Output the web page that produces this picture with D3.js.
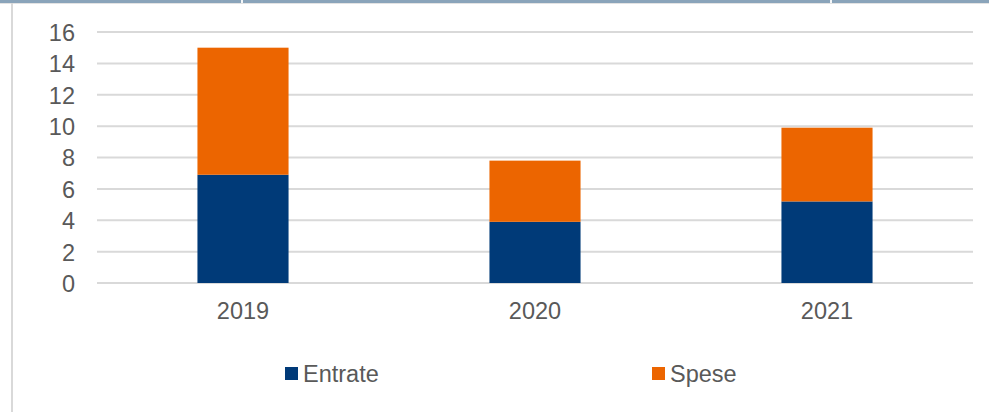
<!DOCTYPE html>
<html>
<head>
<meta charset="utf-8">
<script src="https://cdn.jsdelivr.net/npm/d3@7"></script>
<style>
  html, body { margin: 0; padding: 0; background: #fff; }
  svg { display: block; }
  text { font-family: "Liberation Sans", Arial, sans-serif; fill: #595959; }
</style>
</head>
<body>
<svg id="chart" width="989" height="412"></svg>
<script>
// Yearly totals split into income and expenses
const years = ["2019", "2020", "2021"];
const entrate = [6.9, 3.9, 5.2];
const spese = [8.1, 3.9, 4.7];
const yTicks = [0, 2, 4, 6, 8, 10, 12, 14, 16];
const seriesNames = ["Entrate", "Spese"];
const seriesColors = ["#003a78", "#ec6500"];

const svg = d3.select("#chart");
const W = 989, H = 412;
const FS = 23.5;

// page frame: header strip and left rule
svg.append("rect").attr("x", 0).attr("y", 0).attr("width", W).attr("height", 3).attr("fill", "#8aa4ba");
[241, 830].forEach(gx => svg.append("rect").attr("x", gx).attr("y", 0).attr("width", 2).attr("height", 3).attr("fill", "#f4f7f9"));
svg.append("line").attr("x1", 0).attr("x2", W).attr("y1", 3.5).attr("y2", 3.5).attr("stroke", "#e3e3e3").attr("stroke-width", 1);
svg.append("line").attr("x1", 12).attr("x2", 12).attr("y1", 3).attr("y2", H).attr("stroke", "#d9d9d9").attr("stroke-width", 2);

const x = d3.scaleBand().domain(years).range([97, 973]).paddingInner(0.688).paddingOuter(0.344);
const y = d3.scaleLinear().domain([0, 16]).range([283, 32]);

// gridlines
svg.append("g").selectAll("line").data(yTicks).join("line")
  .attr("x1", 97).attr("x2", 973)
  .attr("y1", d => y(d)).attr("y2", d => y(d))
  .attr("stroke", "#d9d9d9").attr("stroke-width", 2);

// y axis labels
const yAxis = d3.axisLeft(y).tickValues(yTicks).tickSize(0).tickPadding(0);
const gy = svg.append("g").attr("transform", "translate(75,0)").call(yAxis);
gy.select(".domain").remove();
gy.selectAll("text").attr("font-size", FS).attr("fill", "#595959").attr("dy", "0.36em")
  .style("font-family", "'Liberation Sans', Arial, sans-serif");

// stacked bars
const rows = years.map((yr, i) => ({ year: yr, Entrate: entrate[i], Spese: spese[i] }));
const stack = d3.stack().keys(seriesNames)(rows);
svg.append("g").selectAll("g").data(stack).join("g")
  .attr("fill", (d, i) => seriesColors[i])
  .selectAll("rect").data(d => d).join("rect")
  .attr("x", d => x(d.data.year))
  .attr("width", x.bandwidth())
  .attr("y", d => y(d[1]))
  .attr("height", d => y(d[0]) - y(d[1]));

// x axis labels
const xAxis = d3.axisBottom(x).tickSize(0).tickPadding(0);
const gx = svg.append("g").attr("transform", "translate(0,319)").call(xAxis);
gx.select(".domain").remove();
gx.selectAll("text").attr("font-size", FS).attr("fill", "#595959").attr("dy", 0)
  .style("font-family", "'Liberation Sans', Arial, sans-serif");

// legend
const legendX = [285, 652];
const lg = svg.append("g").selectAll("g").data(seriesNames).join("g")
  .attr("transform", (d, i) => `translate(${legendX[i]},367)`);
lg.append("rect").attr("width", 13).attr("height", 13).attr("fill", (d, i) => seriesColors[i]);
lg.append("text").attr("x", 18).attr("y", 14.5).attr("font-size", FS).text(d => d);
</script>
</body>
</html>
